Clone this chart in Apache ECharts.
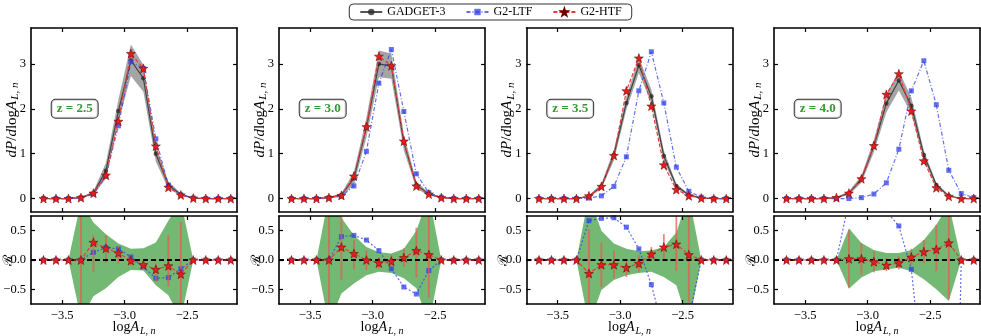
<!DOCTYPE html>
<html>
<head>
<meta charset="utf-8">
<title>dP/dlogA by redshift</title>
<script src="https://cdn.jsdelivr.net/npm/echarts@6/dist/echarts.min.js"></script>
<style>
  html, body { margin: 0; padding: 0; background: #fff; }
  #chart { width: 981px; height: 336px; }
</style>
</head>
<body>
<div id="chart"></div>
<script>
// bin centres (log A_L,n)
var xs = [-3.65, -3.55, -3.45, -3.35, -3.25, -3.15, -3.05, -2.95, -2.85, -2.75, -2.65, -2.55, -2.45, -2.35, -2.25, -2.15];
var redshifts = ['z = 2.5', 'z = 3.0', 'z = 3.5', 'z = 4.0'];
var xTicks = [-3.5, -3.0, -2.5];
var pdfTicks = [0, 1, 2, 3];
var resTicks = [-0.5, 0, 0.5];

// top panels: dP/dlogA, one row per redshift
var g3Pdf = [
  [0, 0, 0, 0.02, 0.12, 0.62, 1.95, 3.08, 2.68, 1.0, 0.3, 0.09, 0.01, 0, 0, 0],
  [0, 0, 0, 0.02, 0.08, 0.45, 1.58, 3.0, 2.95, 1.25, 0.3, 0.1, 0.02, 0, 0, 0],
  [0, 0, 0, 0, 0.05, 0.27, 0.97, 2.13, 2.97, 2.28, 0.95, 0.28, 0.08, 0.01, 0, 0],
  [0, 0, 0, 0, 0.02, 0.12, 0.43, 1.17, 2.12, 2.63, 2.07, 0.97, 0.3, 0.06, 0, 0]
];
var g3Err = [
  [0, 0, 0, 0.01, 0.04, 0.18, 0.25, 0.35, 0.3, 0.18, 0.08, 0.03, 0.01, 0, 0, 0],
  [0, 0, 0, 0.01, 0.04, 0.14, 0.22, 0.3, 0.28, 0.18, 0.08, 0.03, 0.01, 0, 0, 0],
  [0, 0, 0, 0, 0.02, 0.06, 0.12, 0.15, 0.17, 0.15, 0.12, 0.05, 0.02, 0.01, 0, 0],
  [0, 0, 0, 0, 0.01, 0.04, 0.08, 0.14, 0.2, 0.22, 0.18, 0.1, 0.05, 0.02, 0, 0]
];
var ltfPdf = [
  [0, 0, 0, 0.02, 0.1, 0.5, 1.62, 3.05, 2.9, 1.33, 0.3, 0.08, 0.01, 0, 0, 0],
  [0, 0, 0, 0.02, 0.05, 0.28, 1.05, 2.57, 3.32, 1.94, 0.55, 0.13, 0.03, 0, 0, 0],
  [0, 0, 0, 0, 0.01, 0.06, 0.27, 0.93, 2.4, 3.27, 2.13, 0.7, 0.16, 0.03, 0, 0],
  [0, 0, 0, 0, 0, 0, 0.02, 0.1, 0.35, 1.1, 2.4, 3.07, 2.09, 0.63, 0.11, 0.02]
];
var htfPdf = [
  [0, 0, 0, 0.02, 0.12, 0.52, 1.72, 3.23, 2.9, 1.17, 0.25, 0.08, 0.01, 0, 0, 0],
  [0, 0, 0, 0.02, 0.07, 0.5, 1.6, 3.17, 2.96, 1.28, 0.28, 0.1, 0.02, 0, 0, 0],
  [0, 0, 0, 0, 0.06, 0.27, 0.96, 2.4, 3.13, 2.06, 0.75, 0.2, 0.06, 0.01, 0, 0],
  [0, 0, 0, 0, 0.02, 0.12, 0.44, 1.18, 2.32, 2.78, 1.95, 0.84, 0.24, 0.05, 0, 0]
];

// bottom panels: residual R
var bandHi = [
  [0, 0, 0, 1.0, 0.64, 0.44, 0.28, 0.19, 0.2, 0.3, 0.67, 1.0, 0, 0, 0, 0],
  [0, 0, 0, 1.1, 0.72, 0.42, 0.22, 0.13, 0.11, 0.19, 0.5, 1.1, 0, 0, 0, 0],
  [0, 0, 0, 0, 1.1, 0.5, 0.28, 0.19, 0.15, 0.16, 0.22, 0.47, 1.1, 0, 0, 0],
  [0, 0, 0, 0, 0, 0.54, 0.29, 0.17, 0.12, 0.12, 0.17, 0.34, 0.6, 0.95, 0, 0]
];
var bandLo = [
  [0, 0, 0, -1.0, -0.62, -0.48, -0.29, -0.17, -0.18, -0.43, -0.6, -1.0, 0, 0, 0, 0],
  [0, 0, 0, -1.1, -0.57, -0.4, -0.26, -0.2, -0.22, -0.31, -0.48, -1.1, 0, 0, 0, 0],
  [0, 0, 0, 0, -1.1, -0.51, -0.34, -0.26, -0.22, -0.2, -0.29, -0.43, -1.1, 0, 0, 0],
  [0, 0, 0, 0, 0, -0.49, -0.3, -0.19, -0.16, -0.13, -0.19, -0.33, -0.5, -0.7, 0, 0]
];
var ltfRes = [
  [0, 0, 0, 0, 0.13, 0.21, 0.19, 0.05, -0.12, -0.31, -0.3, -0.15, 0, 0, 0, 0],
  [0, 0, 0, 0, 0.4, 0.42, 0.34, 0.16, -0.15, -0.46, -0.58, -0.18, 0, 0, 0, 0],
  [0, 0, 0, 0, 0.67, 0.71, 0.72, 0.56, 0.19, -0.42, -1.24, -1.5, -1.0, 0, 0, 0],
  [0, 0, 0, 0, 0, 1.0, 0.95, 0.91, 0.83, 0.58, -0.16, -2.16, -6.0, -9.5, 0, 0]
];
var htfRes = [
  [0, 0, 0, 0, 0.3, 0.2, 0.12, -0.01, -0.08, -0.16, -0.1, -0.24, 0, 0, 0, 0],
  [0, 0, 0, 0, 0.22, 0.11, 0, -0.05, -0.02, 0.04, 0.16, 0.09, 0, 0, 0, 0],
  [0, 0, 0, 0, -0.23, -0.08, -0.08, -0.13, -0.06, 0.1, 0.22, 0.27, 0.09, 0, 0, 0],
  [0, 0, 0, 0, 0, 0.02, 0.02, -0.03, -0.09, -0.05, 0.05, 0.14, 0.18, 0.29, 0, 0]
];
var htfResLo = [
  [0, 0, 0, -1, -0.2, -0.05, -0.06, -0.09, -0.17, -0.37, -0.45, -1, 0, 0, 0, 0],
  [0, 0, 0, -1, -0.34, -0.16, -0.17, -0.15, -0.11, -0.12, -0.3, -0.64, 0, 0, 0, 0],
  [0, 0, 0, 0, -0.74, -0.46, -0.31, -0.29, -0.2, 0, 0, -0.19, -0.72, 0, 0, 0],
  [0, 0, 0, 0, 0, -0.47, -0.25, -0.21, -0.19, -0.16, -0.08, -0.05, -0.19, -0.67, 0, 0]
];
var htfResHi = [
  [0, 0, 0, 1, 0.42, 0.42, 0.24, 0.06, 0, -0.06, 0.42, 0.65, 0, 0, 0, 0],
  [0, 0, 0, 1, 0.74, 0.34, 0.16, 0.05, 0.09, 0.2, 0.55, 0.9, 0, 0, 0, 0],
  [0, 0, 0, 0, 0.53, 0.3, 0.16, 0, 0.08, 0.22, 0.44, 0.9, 0.9, 0, 0, 0],
  [0, 0, 0, 0, 0, 0.51, 0.29, 0.15, 0.03, 0.06, 0.19, 0.34, 0.6, 0.9, 0, 0]
];

var FONT = '"Liberation Serif", "DejaVu Serif", serif';
var STAR = 'path://M0,-10L2.35,-3.24L9.51,-3.09L3.8,1.24L5.88,8.09L0,4.2L-5.88,8.09L-3.8,1.24L-9.51,-3.09L-2.35,-3.24Z';
var lefts = [31, 279, 526.5, 774];
var W = 206;
var xMin = -3.75, xMax = -2.1;

var chart = echarts.init(document.getElementById('chart'));
var grids = [], xAxes = [], yAxes = [], series = [];

function fmt(d) {
  return function (v) { return v.toFixed(d).replace('-', '\u2212'); };
}
function pairs(arr) {
  return xs.map(function (x, i) { return [x, arr[i]]; });
}

function richName(size) {
  return {
    i: { fontFamily: FONT, fontStyle: 'italic', fontSize: size, color: '#000' },
    r: { fontFamily: FONT, fontSize: size, color: '#000' },
    s: { fontFamily: FONT, fontStyle: 'italic', fontSize: size - 4, color: '#000', padding: [7, 0, 0, 1] }
  };
}

function addGrid(left, top, height, yMin, yMax, yTicks, yDec, yName, yGap, showXName) {
  var g = grids.length;
  grids.push({ left: left, top: top, width: W, height: height, outerBoundsMode: 'none', containLabel: false });
  var tick = { show: true, inside: true, length: 4, lineStyle: { color: '#000', width: 1.2 } };
  var line = { show: true, onZero: false, lineStyle: { color: '#000', width: 1.6 } };
  var lbl = { fontFamily: FONT, fontSize: 12.5, color: '#000' };
  xAxes.push({
    gridIndex: g, type: 'value', position: 'bottom', min: xMin, max: xMax, z: 10,
    axisLine: line, splitLine: { show: false },
    axisTick: Object.assign({ customValues: xTicks }, tick),
    axisLabel: Object.assign({ show: showXName, customValues: xTicks, formatter: fmt(1), margin: 5 }, lbl),
    name: showXName ? '{r|log}{i|A}{s|L, n}' : '', nameLocation: 'middle', nameGap: 15, nameMoveOverlap: false,
    nameTextStyle: { rich: richName(14) }
  });
  xAxes.push({
    gridIndex: g, type: 'value', position: 'top', min: xMin, max: xMax, z: 10,
    axisLine: line, splitLine: { show: false },
    axisTick: Object.assign({ customValues: xTicks }, tick),
    axisLabel: { show: false }
  });
  yAxes.push({
    gridIndex: g, type: 'value', position: 'left', min: yMin, max: yMax, z: 10,
    axisLine: line, splitLine: { show: false },
    axisTick: Object.assign({ customValues: yTicks }, tick),
    axisLabel: Object.assign({ customValues: yTicks, formatter: fmt(yDec), margin: 5 }, lbl),
    name: yName, nameLocation: 'middle', nameGap: yGap, nameMoveOverlap: false,
    nameTextStyle: { fontFamily: '"DejaVu Serif", serif', fontSize: 13, color: '#000', rich: richName(15) }
  });
  yAxes.push({
    gridIndex: g, type: 'value', position: 'right', min: yMin, max: yMax, z: 10,
    axisLine: line, splitLine: { show: false },
    axisTick: Object.assign({ customValues: yTicks }, tick),
    axisLabel: { show: false }
  });
  return g;
}

function bandSeries(g, lo, hi, color, opacity) {
  return {
    type: 'custom', xAxisIndex: 2 * g, yAxisIndex: 2 * g, silent: true, clip: true, z: 1,
    data: xs.map(function (x, i) { return [x, lo[i], hi[i]]; }),
    renderItem: function (params, api) {
      if (params.dataIndex !== 0) return null;
      var upper = [], lower = [];
      for (var i = 0; i < xs.length; i++) {
        upper.push(api.coord([xs[i], hi[i]]));
        lower.unshift(api.coord([xs[i], lo[i]]));
      }
      return { type: 'polygon', shape: { points: upper.concat(lower) }, style: { fill: color, opacity: opacity } };
    }
  };
}

function errSeries(g, lo, hi) {
  return {
    type: 'custom', xAxisIndex: 2 * g, yAxisIndex: 2 * g, silent: true, clip: true, z: 4,
    data: xs.map(function (x, i) { return [x, lo[i], hi[i]]; }),
    renderItem: function (params, api) {
      if (api.value(2) <= api.value(1)) return null;
      var a = api.coord([api.value(0), api.value(1)]);
      var b = api.coord([api.value(0), api.value(2)]);
      return { type: 'line', shape: { x1: a[0], y1: a[1], x2: b[0], y2: b[1] },
               style: { stroke: '#ec5650', lineWidth: 1.8, opacity: 0.72 } };
    }
  };
}

var g3Style = { type: 'line', symbol: 'circle', symbolSize: 4.5, showAllSymbol: true, z: 2,
  itemStyle: { color: '#2a2a2a', opacity: 0.8 }, lineStyle: { color: '#2a2a2a', width: 1.2, opacity: 0.8 } };
var ltfStyle = { type: 'line', symbol: 'rect', symbolSize: 5, showAllSymbol: true, z: 3,
  itemStyle: { color: '#2f3fe8', opacity: 0.75 }, lineStyle: { color: '#2f3fe8', width: 1.2, type: [4, 2, 1, 2], opacity: 0.75 } };
var htfStyle = { type: 'line', symbol: STAR, symbolSize: 9, showAllSymbol: true, z: 5,
  itemStyle: { color: '#e41d1d', borderColor: '#600', borderWidth: 0.5 }, lineStyle: { color: '#e83a3a', width: 1.2, type: [4, 2] } };

for (var p = 0; p < 4; p++) {
  var gt = addGrid(lefts[p], 28, 184, -0.3, 3.8, pdfTicks, 0, '{i|dP}{r|/}{i|d}{r|log}{i|A}{s|L, n}', 10, false);
  var gb = addGrid(lefts[p], 216, 88, -0.75, 0.75, resTicks, 1, '\u211B', 16, true);

  var lo = g3Pdf[p].map(function (v, i) { return v - g3Err[p][i]; });
  var hi = g3Pdf[p].map(function (v, i) { return v + g3Err[p][i]; });
  series.push(bandSeries(gt, lo, hi, '#7a7a7a', 0.68));
  series.push(Object.assign({ name: 'GADGET-3', xAxisIndex: 2 * gt, yAxisIndex: 2 * gt, data: pairs(g3Pdf[p]) }, g3Style));
  series.push(Object.assign({ name: 'G2-LTF', xAxisIndex: 2 * gt, yAxisIndex: 2 * gt, data: pairs(ltfPdf[p]) }, ltfStyle));
  series.push(Object.assign({ name: 'G2-HTF', xAxisIndex: 2 * gt, yAxisIndex: 2 * gt, data: pairs(htfPdf[p]) }, htfStyle));
  series.push({
    type: 'scatter', xAxisIndex: 2 * gt, yAxisIndex: 2 * gt, silent: true, z: 8,
    symbolSize: 2, itemStyle: { color: 'rgba(0,0,0,0)' },
    data: [[-3.40, 2.0]],
    label: { show: true, position: 'inside', formatter: redshifts[p], color: '#008000', fontWeight: 'bold',
             fontFamily: FONT, fontSize: 13, backgroundColor: '#fff', borderColor: '#000', borderWidth: 1,
             borderRadius: 4, padding: [3, 5, 2, 5] }
  });

  series.push(bandSeries(gb, bandLo[p], bandHi[p], '#008000', 0.55));
  series.push(errSeries(gb, htfResLo[p], htfResHi[p]));
  series.push(Object.assign({}, ltfStyle, {
    name: 'res-LTF', xAxisIndex: 2 * gb, yAxisIndex: 2 * gb, data: pairs(ltfRes[p]),
    lineStyle: { color: '#2f3fe8', width: 1.2, type: [2, 2], opacity: 0.75 },
    markLine: { silent: true, symbol: 'none', label: { show: false },
                lineStyle: { color: '#000', width: 2, type: [5, 3] }, data: [{ yAxis: 0 }] }
  }));
  series.push(Object.assign({}, htfStyle, { name: 'res-HTF', xAxisIndex: 2 * gb, yAxisIndex: 2 * gb, data: pairs(htfRes[p]) }));
}

chart.setOption({
  animation: false,
  backgroundColor: '#fff',
  legend: {
    top: 4, left: 'center', data: ['GADGET-3', 'G2-LTF', 'G2-HTF'],
    itemWidth: 22, itemHeight: 8, itemGap: 20,
    borderColor: '#333', borderWidth: 1, borderRadius: 4, padding: [2, 10],
    textStyle: { fontFamily: FONT, fontSize: 12, color: '#000' }
  },
  grid: grids,
  xAxis: xAxes,
  yAxis: yAxes,
  series: series
});
</script>
</body>
</html>
